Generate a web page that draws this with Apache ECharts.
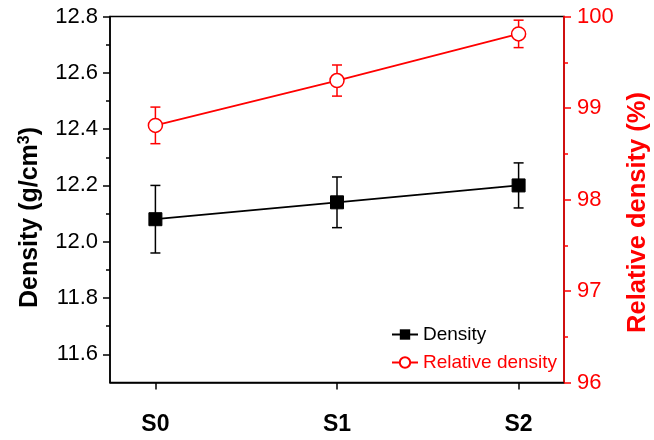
<!DOCTYPE html>
<html>
<head>
<meta charset="utf-8">
<script src="https://cdn.jsdelivr.net/npm/echarts@6/dist/echarts.min.js"></script>
<style>
    html, body { margin: 0; padding: 0; background: #fff; }
    #chart { width: 654px; height: 440px; }
</style>
</head>
<body>
<div id="chart"></div>
<script>
// sample names and measured values
var categories = ['S0', 'S1', 'S2'];
var density = [12.08, 12.14, 12.20];
var densityErr = [0.12, 0.09, 0.08];
var relDensity = [98.81, 99.30, 99.81];
var relDensityErr = [0.20, 0.17, 0.15];

// tick positions
var leftMajor = [11.6, 11.8, 12.0, 12.2, 12.4, 12.6, 12.8];
var leftMinor = [11.7, 11.9, 12.1, 12.3, 12.5, 12.7];
var xTicks = [0, 1, 2];

var FONT = '"Liberation Sans", Arial, sans-serif';
var RED = '#ff0000';

function points(vals) {
    var out = [];
    for (var i = 0; i < vals.length; i++) out.push([i, vals[i]]);
    return out;
}
function errPoints(vals, errs) {
    var out = [];
    for (var i = 0; i < vals.length; i++) out.push([i, vals[i] - errs[i], vals[i] + errs[i]]);
    return out;
}
function errRender(color) {
    return function (params, api) {
        var lo = api.coord([api.value(0), api.value(1)]);
        var hi = api.coord([api.value(0), api.value(2)]);
        var hw = 5;
        var st = { stroke: color, lineWidth: 1.5 };
        return {
            type: 'group',
            children: [
                { type: 'line', shape: { x1: lo[0], y1: lo[1], x2: hi[0], y2: hi[1] }, style: st },
                { type: 'line', shape: { x1: lo[0] - hw, y1: lo[1], x2: lo[0] + hw, y2: lo[1] }, style: st },
                { type: 'line', shape: { x1: hi[0] - hw, y1: hi[1], x2: hi[0] + hw, y2: hi[1] }, style: st }
            ]
        };
    };
}

var chart = echarts.init(document.getElementById('chart'));
var option = {
    animation: false,
    textStyle: { fontFamily: FONT },
    grid: {
        left: 110, right: 90, top: 16.5, bottom: 57.5,
        outerBoundsMode: 'none', containLabel: false,
        show: true, borderColor: '#000', borderWidth: 1.5, backgroundColor: 'transparent'
    },
    legend: {
        orient: 'vertical',
        left: 386, top: 320,
        itemWidth: 26, itemHeight: 13, itemGap: 9,
        textStyle: { fontSize: 19, fontFamily: FONT },
        data: [
            { name: 'Density', textStyle: { color: '#000' } },
            { name: 'Relative density', textStyle: { color: RED } }
        ]
    },
    xAxis: {
        type: 'value', min: -0.25, max: 2.25,
        axisLine: { onZero: false, lineStyle: { color: '#000', width: 1.5 } },
        axisTick: { customValues: xTicks, length: 7, lineStyle: { color: '#000', width: 1.5 } },
        axisLabel: {
            customValues: xTicks, margin: 31,
            fontSize: 23, fontWeight: 'bold', color: '#000', fontFamily: FONT,
            formatter: function (v) { return categories[Math.round(v)]; }
        },
        splitLine: { show: false }
    },
    yAxis: [
        {
            type: 'value', position: 'left', min: 11.5, max: 12.8,
            name: '{a|Density (g/cm}{s|3}{a|)}', nameLocation: 'middle', nameGap: 66, nameRotate: 90,
            nameTextStyle: {
                fontSize: 25, fontWeight: 'bold', color: '#000', fontFamily: FONT,
                padding: [0, 36, 0, 0],
                rich: {
                    a: { fontSize: 25, fontWeight: 'bold', color: '#000', fontFamily: FONT },
                    s: { fontSize: 16, fontWeight: 'bold', color: '#000', fontFamily: FONT, verticalAlign: 'bottom', padding: [0, 0, 11, 0] }
                }
            },
            axisLine: { show: true, onZero: false, lineStyle: { color: '#000', width: 1.5 } },
            axisTick: { customValues: leftMajor, length: 7, lineStyle: { color: '#000', width: 1.5 } },
            axisLabel: {
                customValues: leftMajor, margin: 12,
                fontSize: 22, color: '#000', fontFamily: FONT,
                formatter: function (v) { return v.toFixed(1); }
            },
            splitLine: { show: false }
        },
        {
            type: 'value', position: 'right', min: 96, max: 100, interval: 1,
            name: 'Relative density (%)', nameLocation: 'middle', nameGap: 48, nameRotate: 90,
            nameTextStyle: { fontSize: 25.5, fontWeight: 'bold', color: RED, fontFamily: FONT, padding: [0, 26, 0, 0] },
            axisLine: { show: true, onZero: false, lineStyle: { color: RED, width: 1.5 } },
            axisTick: { length: 7, lineStyle: { color: RED, width: 1.5 } },
            minorTick: { show: true, splitNumber: 2, length: 4, lineStyle: { color: RED, width: 1.5 } },
            axisLabel: { margin: 13, fontSize: 22, color: RED, fontFamily: FONT },
            splitLine: { show: false }
        },
        {
            // minor ticks of the left axis
            type: 'value', position: 'left', min: 11.5, max: 12.8,
            axisLine: { show: false, onZero: false },
            axisTick: { customValues: leftMinor, length: 4, lineStyle: { color: '#000', width: 1.5 } },
            axisLabel: { show: false },
            splitLine: { show: false }
        }
    ],
    series: [
        {
            name: 'Density err', type: 'custom', yAxisIndex: 0, z: 1,
            renderItem: errRender('#000'), data: errPoints(density, densityErr)
        },
        {
            name: 'Relative density err', type: 'custom', yAxisIndex: 1, z: 1,
            renderItem: errRender(RED), data: errPoints(relDensity, relDensityErr)
        },
        {
            name: 'Density', type: 'line', yAxisIndex: 0, z: 3,
            symbol: 'rect', symbolSize: 13,
            lineStyle: { color: '#000', width: 1.8 },
            itemStyle: { color: '#000', borderColor: '#000' },
            data: points(density)
        },
        {
            name: 'Relative density', type: 'line', yAxisIndex: 1, z: 3,
            symbol: 'circle', symbolSize: 14,
            lineStyle: { color: RED, width: 1.8 },
            itemStyle: { color: '#fff', borderColor: RED, borderWidth: 1.5 },
            data: points(relDensity)
        }
    ]
};
chart.setOption(option);
</script>
</body>
</html>
